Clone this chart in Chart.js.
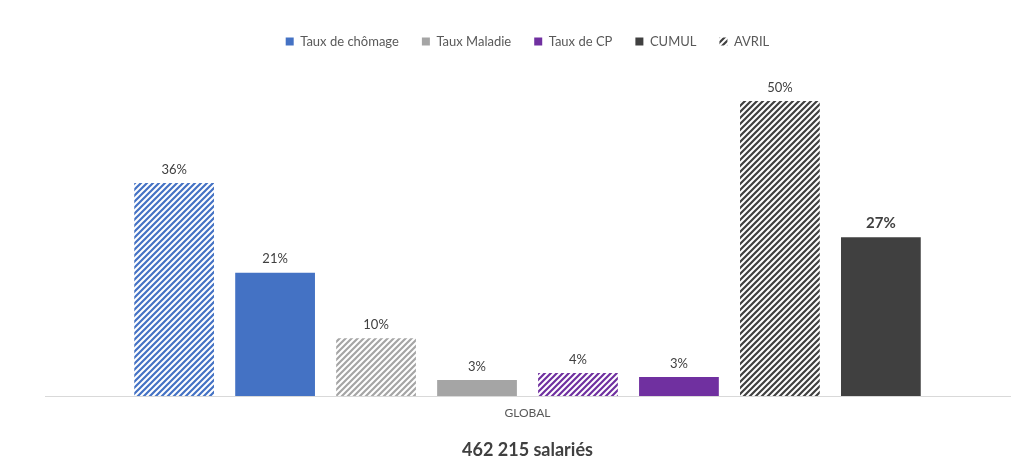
<!DOCTYPE html>
<html>
<head>
<meta charset="utf-8">
<script src="https://cdn.jsdelivr.net/npm/chart.js@4/dist/chart.umd.min.js"></script>
<style>
  html, body { margin: 0; padding: 0; background: #fff; }
  #wrap { width: 1024px; height: 475px; }
</style>
</head>
<body>
<div id="wrap"><canvas id="chart"></canvas></div>
<script>
// Data
const categories = ["GLOBAL"];
const groups = ["Taux de chômage", "Taux Maladie", "Taux de CP", "Global"];
const avrilValues = [36.1, 9.8, 3.9, 50.0];
const cumulValues = [20.9, 2.7, 3.2, 26.9];
const legendLabels = ["Taux de chômage", "Taux Maladie", "Taux de CP", "CUMUL", "AVRIL"];
const title = "462 215 salariés";

// Colors
const groupColors = ["#4472C4", "#A5A5A5", "#7030A0", "#404040"];
const textColor = "#595959";

// Hatch pattern (upward diagonal)
const hatch = (color) => {
    const size = 6;
    const c = document.createElement("canvas");
    c.width = size;
    c.height = size;
    const g = c.getContext("2d");
    g.fillStyle = "#fff";
    g.fillRect(0, 0, size, size);
    g.strokeStyle = color;
    g.lineWidth = 2.2;
    g.beginPath();
    g.moveTo(0, size); g.lineTo(size, 0);
    g.moveTo(-size / 2, size / 2); g.lineTo(size / 2, -size / 2);
    g.moveTo(size / 2, size * 1.5); g.lineTo(size * 1.5, size / 2);
    g.stroke();
    return g.createPattern(c, "repeat");
};

// Datasets: AVRIL (hatched) then CUMUL (solid) for each group
let datasets = [];
groups.forEach((name, i) => {
    datasets.push({
        label: name + " - AVRIL",
        data: [avrilValues[i]],
        backgroundColor: hatch(groupColors[i]),
        borderWidth: 0
    });
    datasets.push({
        label: name + " - CUMUL",
        data: [cumulValues[i]],
        backgroundColor: groupColors[i],
        borderWidth: 0
    });
});

// Value labels above bars
const valueLabels = {
    id: "valueLabels",
    afterDatasetsDraw(chart) {
        const ctx = chart.ctx;
        ctx.save();
        ctx.textAlign = "center";
        ctx.textBaseline = "bottom";
        chart.data.datasets.forEach((ds, i) => {
            const meta = chart.getDatasetMeta(i);
            meta.data.forEach((bar, j) => {
                const last = i === chart.data.datasets.length - 1;
                ctx.font = last ? "bold 15px Lato, Carlito, sans-serif" : "13px Lato, Carlito, sans-serif";
                ctx.fillStyle = "#404040";
                ctx.fillText(Math.round(ds.data[j]) + "%", bar.x, bar.y - 7);
            });
        });
        ctx.restore();
    }
};

new Chart(document.querySelector("#chart"), {
    type: "bar",
    data: {
        labels: categories,
        datasets: datasets
    },
    options: {
        responsive: true,
        maintainAspectRatio: false,
        animation: false,
        categoryPercentage: 0.837,
        barPercentage: 0.79,
        layout: {
            padding: {top: 12, left: 45, right: 14, bottom: 6}
        },
        plugins: {
            legend: {
                position: "top",
                onClick: null,
                labels: {
                    boxWidth: 8,
                    boxHeight: 8,
                    padding: 23,
                    color: textColor,
                    font: {family: "Lato, Carlito, sans-serif", size: 13},
                    generateLabels: () => legendLabels.map((text, i) => ({
                        text: text,
                        fillStyle: i < 4 ? groupColors[i] : hatch("#404040"),
                        strokeStyle: "transparent",
                        lineWidth: 0,
                        fontColor: textColor,
                        hidden: false,
                        datasetIndex: i
                    }))
                }
            },
            title: {
                display: true,
                position: "bottom",
                text: title,
                color: "#404040",
                font: {family: "Lato, Carlito, sans-serif", size: 18, weight: "bold"},
                padding: {top: 17, bottom: 8}
            },
            tooltip: {enabled: false}
        },
        scales: {
            x: {
                grid: {display: false},
                border: {color: "#D9D9D9", width: 1},
                ticks: {color: textColor, font: {family: "Lato, Carlito, sans-serif", size: 12}, padding: 2}
            },
            y: {
                display: false,
                min: 0,
                max: 57.3
            }
        }
    },
    plugins: [valueLabels]
});
</script>
</body>
</html>
